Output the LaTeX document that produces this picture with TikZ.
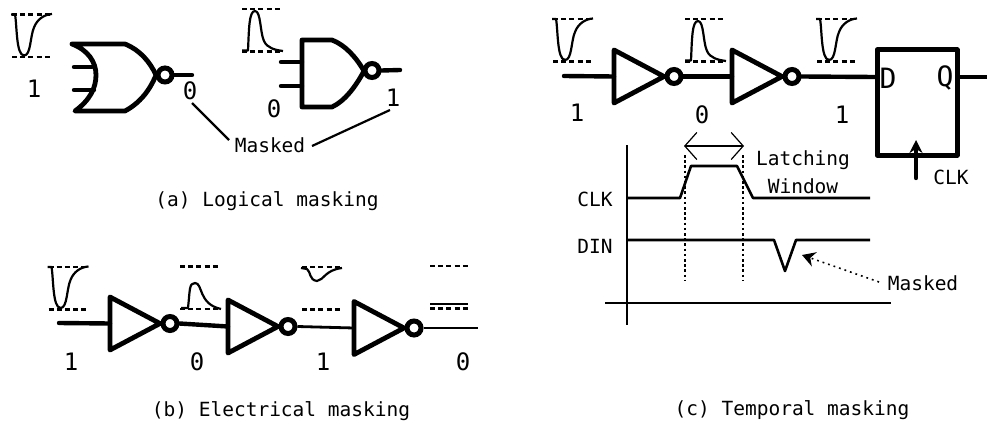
\documentclass[tikz,border=0pt]{standalone}
\usepackage{fontspec}
\setmainfont{DejaVu Sans Mono}
\usetikzlibrary{arrows.meta}
\tikzset{
  x=1pt,y=-1pt,
  txt/.style={inner sep=0pt,font=\fontsize{19.5pt}{22pt}\selectfont,text height=15pt,text depth=4pt,anchor=center,yshift=-1.5pt},
  digit/.style={inner sep=0pt,font=\fontsize{24pt}{26pt}\selectfont,anchor=center},
  bigtxt/.style={inner sep=0pt,font=\fontsize{28pt}{30pt}\selectfont,anchor=center},
  gatew/.style={line width=4.8pt,line join=round,line cap=round},
  wirew/.style={line width=4.4pt,line cap=round},
  levels/.style={line width=2.2pt,dash pattern=on 5pt off 3.2pt},
  wave/.style={line width=2.2pt,line join=round},
  timew/.style={line width=2.6pt,line join=round},
  bubble/.style={circle,draw,fill=white,line width=5pt,minimum size=14pt,inner sep=0pt},
  guide/.style={line width=1.6pt,dash pattern=on 2.6pt off 2.6pt},
  levelpair/.pic={
    \draw[levels] (0,0) -- (38,0);
    \draw[levels] (0,42.5) -- (38,42.5);
  },
  dipwave/.pic={
    \draw[levels] (0,0) -- (38,0);
    \draw[levels] (0,42.5) -- (38,42.5);
    \draw[wave] (-1,0) -- (3,0) .. controls (5,10) and (4,41) .. (12,41)
      .. controls (19,41) and (18,22) .. (22,13) .. controls (25,5) and (32,0) .. (40,-0.5);
  },
  bumpwave/.pic={
    \draw[levels] (0,0) -- (38,0);
    \draw[levels] (0,42.5) -- (38,42.5);
    \draw[wave] (0,41.5) -- (6,41.5) .. controls (7,20) and (7,2) .. (13,2)
      .. controls (19,2) and (18,24) .. (22,32) .. controls (25,39) and (33,41) .. (41,42);
  },
  inverter/.pic={
    \draw[gatew] (0,0) -- (0,53) -- (50,26.5) -- cycle;
    \node[bubble] (-b) at (60,26.5) {};
    \coordinate (-in) at (0,26.5);
  }
}
\begin{document}
\begin{tikzpicture}
\useasboundingbox (0,0) rectangle (987,425);
% (a) OR gate
\pic at (12,14.5) {dipwave};
\draw[gatew] (72,44) -- (125,44) .. controls (140,50) and (150,62) .. (156,75)
  .. controls (150,90) and (140,103) .. (125,111) -- (75,111)
  .. controls (90,100) and (96,88) .. (96,75) .. controls (96,62) and (88,50) .. (72,44);
\node[bubble] (orb) at (165,75) {};
\coordinate (orout) at (192,75);
\draw[wirew] (orb.east) -- (orout);
\coordinate (ora) at (74,67); \coordinate (oraa) at (92,67);
\coordinate (orc) at (74,90); \coordinate (orcc) at (94,90);
\draw[wirew] (ora) -- (oraa);
\draw[wirew] (orc) -- (orcc);
\node[digit] (a1) at (34,89) {1};
\node[digit] (a0) at (190,91) {0};
% (a) NAND gate
\pic at (242,9) {bumpwave};
\draw[gatew] (302,40) -- (332,40) .. controls (345,45) and (356,57) .. (364,71)
  .. controls (356,86) and (345,101) .. (332,107) -- (302,107) -- cycle;
\node[bubble] (nb) at (372,70.5) {};
\coordinate (nout) at (400,70);
\draw[wirew] (nb.east) -- (nout);
\coordinate (na) at (281,62); \coordinate (naa) at (302,62);
\coordinate (nc) at (281,86); \coordinate (ncc) at (302,86);
\draw[wirew] (na) -- (naa);
\draw[wirew] (nc) -- (ncc);
\node[digit] (b0) at (274,109) {0};
\node[digit] (b1) at (393,98) {1};
\node[txt] (mk) at (270,145) {Masked};
\coordinate (mka) at (192,103); \coordinate (mkb) at (390,110);
\draw[line width=2.2pt] (mka) -- (229,140);
\draw[line width=2.2pt] (312,146) -- (mkb);
\node[txt] (capa) at (267,199) {(a) Logical masking};
% (b)
\pic at (48.5,267) {dipwave};
\pic at (180,266.5) {levelpair};
\draw[wave] (181,308) -- (188,308) .. controls (190,290) and (189,283) .. (195,283)
  .. controls (203,283) and (198,304) .. (221,309);
\pic at (302,267) {levelpair};
\draw[wave] (301,268) -- (307,269) .. controls (311,272) and (309,280) .. (317,281)
  .. controls (324,280) and (325,270) .. (342,268);
\pic at (430,266) {levelpair};
\draw[line width=2.6pt] (430,304) -- (468,304);
\pic (bi1) at (110,297) {inverter};
\pic (bi2) at (228,300) {inverter};
\pic (bi3) at (354,301.5) {inverter};
\coordinate (bin) at (59,323);
\coordinate (bout) at (478,328);
\draw[wirew] (bin) -- (bi1-in);
\draw[wirew] (bi1-b.east) -- (bi2-in);
\draw[line width=2.8pt] (bi2-b.east) -- (bi3-in);
\draw[line width=2.2pt] (bi3-b.east) -- (bout);
\node[digit] (bl1) at (71,362) {1};
\node[digit] (bl2) at (197,362) {0};
\node[digit] (bl3) at (323,362) {1};
\node[digit] (bl4) at (463,362) {0};
\node[txt] (capb) at (281,409) {(b) Electrical masking};
% (c)
\pic at (553,19) {dipwave};
\pic at (685,19) {bumpwave};
\pic at (817,19) {dipwave};
\pic (ci1) at (614,50) {inverter};
\pic (ci2) at (732,50) {inverter};
\coordinate (cin) at (564,76);
\draw[wirew] (cin) -- (ci1-in);
\draw[wirew] (ci1-b.east) -- (ci2-in);
\node[draw,line width=5pt,line join=round,minimum width=80pt,minimum height=105pt,inner sep=0pt] (ff) at (917,102.5) {};
\draw[wirew] (ci2-b.east) -- (ff.west |- 0,77);
\coordinate (cqout) at (987,77);
\draw[wirew,line cap=butt] (ff.east |- 0,77) -- (cqout);
\node[bigtxt] (ffd) at (888,78) {D};
\node[bigtxt] (ffq) at (945,78) {Q};
\coordinate (ckin) at (916,178); \coordinate (cktip) at (916,140);
\draw[wirew,-{Stealth[length=13pt,width=13pt]}] (ckin) -- (cktip);
\node[txt] (ckl) at (951,177) {CLK};
\node[digit] (cl1) at (577,113) {1};
\node[digit] (cl2) at (702,115) {0};
\node[digit] (cl3) at (842,115) {1};
% timing
\coordinate (yt) at (627,145); \coordinate (yb) at (627,325);
\coordinate (xl) at (605,303); \coordinate (xr) at (891,303);
\draw[line width=2.4pt] (yt) -- (yb);
\draw[line width=2.4pt] (xl) -- (xr);
\draw[timew] (628,198) -- (680,198) -- (691,166) -- (737,166) -- (753,198) -- (870,198);
\draw[timew] (628,240) -- (774,240) -- (785,271) -- (796,240) -- (870,240);
\coordinate (g1t) at (685,155); \coordinate (g1b) at (685,281);
\coordinate (g2t) at (743,155); \coordinate (g2b) at (743,281);
\draw[guide] (g1t) -- (g1b);
\draw[guide] (g2t) -- (g2b);
\coordinate (wl) at (684,146); \coordinate (wr) at (744,146);
\draw[line width=1.2pt,{Straight Barb[length=12pt,width=27pt]}-{Straight Barb[length=12pt,width=27pt]}] (wl) -- (wr);
\node[txt] (lat) at (803,158) {Latching};
\node[txt] (win) at (803,186) {Window};
\node[txt] (tclk) at (595,199) {CLK};
\node[txt] (tdin) at (595,246) {DIN};
\node[txt] (mk2) at (923,283) {Masked};
\coordinate (mkt) at (802,255);
\draw[line width=1.6pt,dash pattern=on 1.8pt off 4pt,-{Stealth[length=13pt,width=15pt]}] (879,282) -- (mkt);
\node[txt] (capc) at (792,408) {(c) Temporal masking};
\end{tikzpicture}
\end{document}
